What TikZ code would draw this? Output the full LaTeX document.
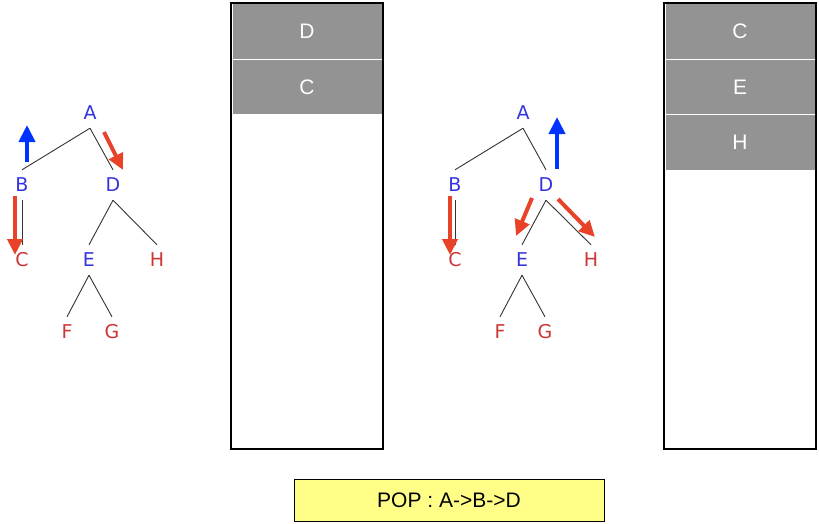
\documentclass[tikz,border=0pt]{standalone}
\usepackage{fontspec}
\setmainfont{Liberation Sans}
\newfontfamily\treefont{DejaVu Sans}
\usetikzlibrary{arrows.meta}
\definecolor{tblue}{RGB}{52,52,220}
\definecolor{tred}{RGB}{204,54,54}
\definecolor{ablue}{RGB}{0,51,255}
\definecolor{ared}{RGB}{232,66,40}
\definecolor{cellgray}{RGB}{147,147,147}
\definecolor{popyellow}{RGB}{255,255,136}
\tikzset{
  tnode/.style={inner sep=0pt, minimum width=16pt, minimum height=30pt, font=\treefont\fontsize{19}{19}\selectfont, text height=13.5pt, text depth=0pt},
  bnode/.style={tnode, text=tblue},
  rnode/.style={tnode, text=tred},
  edge/.style={draw=black!80, line width=0.9pt},
  barrow/.style={draw=ablue, line width=4pt, -{Triangle[length=17pt,width=16pt]}},
  rarrow/.style={draw=ared, line width=4pt, -{Triangle[length=16pt,width=15pt]}},
  stackbox/.style={draw=black, line width=2pt},
  cell/.style={fill=cellgray, draw=white, line width=0.8pt, minimum width=150pt, minimum height=55.5pt, inner sep=0pt, text=white, font=\fontsize{21}{21}\selectfont},
  popbox/.style={fill=popyellow, draw=black, line width=0.8pt, minimum width=310pt, minimum height=42pt, inner sep=0pt, font=\fontsize{21}{21}\selectfont}
}
\begin{document}
\begin{tikzpicture}[x=1pt,y=-1pt]
\useasboundingbox (0,0) rectangle (819,523);
% ---------- tree 1 ----------
\node[bnode] (A1) at (90,113) {A};
\node[bnode] (B1) at (22,185) {B};
\node[bnode] (D1) at (113,185) {D};
\node[rnode] (C1) at (22,260) {C};
\node[bnode] (E1) at (89,260) {E};
\node[rnode] (H1) at (157,260) {H};
\node[rnode] (F1) at (67,332) {F};
\node[rnode] (G1) at (112,332) {G};
\draw[edge] (A1.south) -- (B1.north);
\draw[edge] (A1.south) -- (D1.north);
\draw[edge] (B1.south) -- (C1.north);
\draw[edge] (D1.south) -- (E1.north);
\draw[edge] (D1.south) -- (H1.north);
\draw[edge] (E1.south) -- (F1.north);
\draw[edge] (E1.south) -- (G1.north);
\draw[barrow] (27,162) -- (27,125);
\draw[rarrow] (104,132) -- (123,170);
\draw[rarrow] (15,196) -- (15,255);
% ---------- tree 2 ----------
\node[bnode] (A2) at (523,113) {A};
\node[bnode] (B2) at (455,185) {B};
\node[bnode] (D2) at (546,185) {D};
\node[rnode] (C2) at (455,260) {C};
\node[bnode] (E2) at (522,260) {E};
\node[rnode] (H2) at (591,260) {H};
\node[rnode] (F2) at (500,332) {F};
\node[rnode] (G2) at (545,332) {G};
\draw[edge] (A2.south) -- (B2.north);
\draw[edge] (A2.south) -- (D2.north);
\draw[edge] (B2.south) -- (C2.north);
\draw[edge] (D2.south) -- (E2.north);
\draw[edge] (D2.south) -- (H2.north);
\draw[edge] (E2.south) -- (F2.north);
\draw[edge] (E2.south) -- (G2.north);
\draw[barrow] (557,169) -- (557,117);
\draw[rarrow] (532,198) -- (516,236);
\draw[rarrow] (558,199) -- (595,237);
\draw[rarrow] (450,196) -- (450,255);
% ---------- stack 1 ----------
\node[cell] (s1a) at (307,31.5) {D};
\node[cell] (s1b) at (307,87) {C};
\draw[stackbox] (231,3) rectangle (383,449);
% ---------- stack 2 ----------
\node[cell] (s2a) at (740,31.5) {C};
\node[cell] (s2b) at (740,87) {E};
\node[cell] (s2c) at (740,142.5) {H};
\draw[stackbox] (664,3) rectangle (816,449);
% ---------- pop ----------
\node[popbox] (pop) at (449,500) {POP : A->B->D};
\end{tikzpicture}
\end{document}
